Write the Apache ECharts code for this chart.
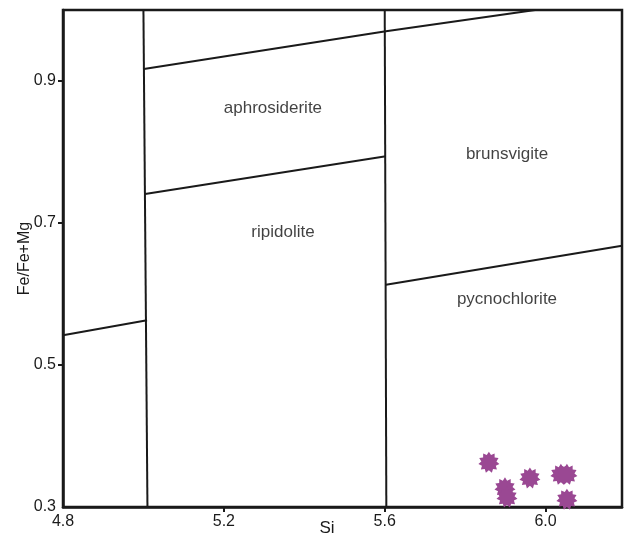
<!DOCTYPE html>
<html>
<head>
<meta charset="utf-8">
<script src="https://cdn.jsdelivr.net/npm/echarts@6/dist/echarts.min.js"></script>
<style>
  html, body { margin: 0; padding: 0; background: #fff; }
  #chart { width: 626px; height: 535px; }
</style>
</head>
<body>
<div id="chart"></div>
<script>
// axis ticks
const xTicks = [4.8, 5.2, 5.6, 6.0];
const yTicks = [0.3, 0.5, 0.7, 0.9];

// field boundaries (Si, Fe/Fe+Mg)
const lineLowLeft = [[4.8, 0.542], [5.009, 0.563]];
const lineSi50 = [[5.0, 1.0], [5.01, 0.3]];
const lineSi56 = [[5.6, 1.0], [5.604, 0.3]];
const lineUpper = [[5.001, 0.917], [5.603, 0.970], [5.974, 1.0]];
const lineMiddle = [[5.004, 0.741], [5.603, 0.794]];
const lineRight = [[5.603, 0.613], [6.19, 0.668]];

// field names
const fieldNames = ['aphrosiderite', 'ripidolite', 'brunsvigite', 'pycnochlorite'];
const fieldSi = [5.322, 5.347, 5.904, 5.904];
const fieldFe = [0.862, 0.687, 0.797, 0.593];

// samples
const sampleSi = [5.859, 5.899, 5.904, 5.961, 6.038, 6.053, 6.053];
const sampleFe = [0.363, 0.327, 0.314, 0.341, 0.346, 0.346, 0.311];

const ink = '#1a1a1a';
const font = '"Liberation Sans", Arial, sans-serif';

// spiky marker like the scanned asterisks
function burst(n, r1, r2) {
  let d = '';
  for (let i = 0; i < 2 * n; i++) {
    const r = i % 2 ? r2 : r1;
    const a = Math.PI * i / n;
    d += (i ? 'L' : 'M') + (50 + r * Math.sin(a)).toFixed(1) + ',' + (50 - r * Math.cos(a)).toFixed(1);
  }
  return 'path://' + d + 'Z';
}

const chart = echarts.init(document.getElementById('chart'));

const boundary = (data) => ({
  type: 'line',
  data: data,
  symbol: 'none',
  silent: true,
  lineStyle: { color: ink, width: 2 }
});

chart.setOption({
  animation: false,
  grid: {
    left: 63, right: 4, top: 10, bottom: 28,
    outerBoundsMode: 'none',
    containLabel: false,
    show: true, borderColor: ink, borderWidth: 2.5
  },
  xAxis: {
    type: 'value',
    min: 4.8, max: 6.19,
    name: 'Si',
    nameLocation: 'middle',
    nameGap: 13,
    nameMoveOverlap: false,
    nameTextStyle: { fontFamily: font, fontSize: 17, color: ink, padding: [0, 31, 0, 0] },
    axisLine: { lineStyle: { color: ink, width: 2.5 } },
    axisTick: { customValues: xTicks.slice(1), length: 5, lineStyle: { color: ink, width: 2 } },
    axisLabel: {
      customValues: xTicks, margin: 7,
      fontFamily: font, fontSize: 16, color: ink,
      formatter: v => v.toFixed(1)
    },
    splitLine: { show: false }
  },
  yAxis: {
    type: 'value',
    min: 0.3, max: 1.0,
    name: 'Fe/Fe+Mg',
    nameLocation: 'middle',
    nameGap: 30,
    nameMoveOverlap: false,
    nameTextStyle: { fontFamily: font, fontSize: 16, color: ink },
    axisLine: { lineStyle: { color: ink, width: 2.5 } },
    axisTick: { customValues: yTicks.slice(1), length: 5, lineStyle: { color: ink, width: 2 } },
    axisLabel: {
      customValues: yTicks, margin: 7,
      fontFamily: font, fontSize: 16, color: ink,
      formatter: v => v.toFixed(1)
    },
    splitLine: { show: false }
  },
  series: [
    boundary(lineLowLeft),
    boundary(lineSi50),
    boundary(lineSi56),
    boundary(lineUpper),
    boundary(lineMiddle),
    boundary(lineRight),
    {
      type: 'scatter',
      silent: true,
      symbolSize: 0,
      data: fieldNames.map((n, i) => ({ name: n, value: [fieldSi[i], fieldFe[i]] })),
      label: {
        show: true, position: 'inside', formatter: '{b}',
        fontFamily: font, fontSize: 17, color: '#111', textBorderWidth: 0
      }
    },
    {
      type: 'scatter',
      symbol: burst(11, 50, 36),
      symbolSize: 21,
      itemStyle: { color: '#9a4893', opacity: 1 },
      data: sampleSi.map((s, i) => [s, sampleFe[i]])
    }
  ]
});
</script>
</body>
</html>
